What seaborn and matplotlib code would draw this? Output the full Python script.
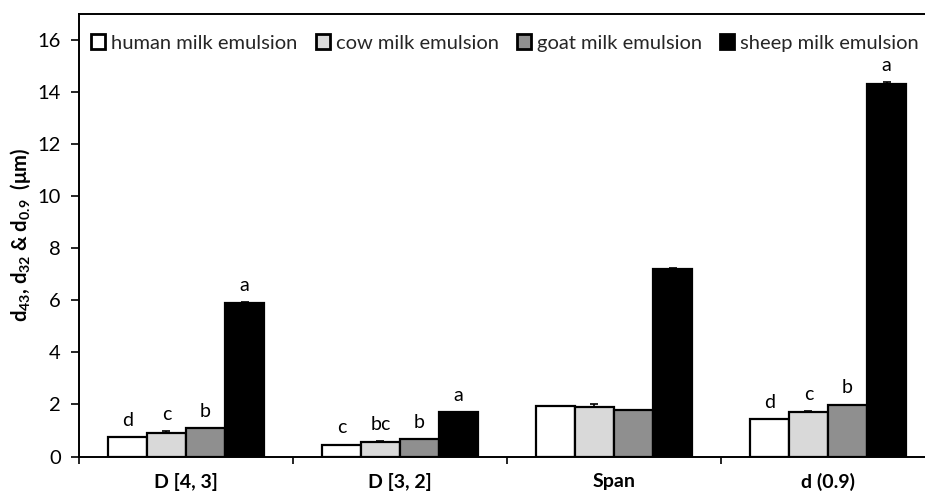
import numpy as np
import pandas as pd
import matplotlib
matplotlib.use("Agg")
import matplotlib.pyplot as plt
import seaborn as sns
from matplotlib.patches import Patch

categories = ["D [4, 3]", "D [3, 2]", "Span", "d (0.9)"]
series = ["human milk emulsion", "cow milk emulsion", "goat milk emulsion", "sheep milk emulsion"]
human = [0.75, 0.45, 1.95, 1.43]
cow = [0.92, 0.57, 1.92, 1.70]
goat = [1.08, 0.66, 1.79, 1.99]
sheep = [5.90, 1.70, 7.22, 14.32]
human_err = [0.0, 0.0, 0.0, 0.0]
cow_err = [0.05, 0.03, 0.10, 0.04]
goat_err = [0.0, 0.0, 0.0, 0.0]
sheep_err = [0.04, 0.0, 0.03, 0.05]
human_letters = ["d", "c", "", "d"]
cow_letters = ["c", "bc", "", "c"]
goat_letters = ["b", "b", "", "b"]
sheep_letters = ["a", "a", "", "a"]
colors = ["#ffffff", "#d9d9d9", "#8f8f8f", "#000000"]

sns.set_theme(style="white")
FONT = "Lato"
plt.rcParams["font.family"] = [FONT, "DejaVu Sans"]
plt.rcParams["mathtext.fontset"] = "custom"
plt.rcParams["mathtext.rm"] = FONT
plt.rcParams["mathtext.bf"] = FONT + ":bold"
plt.rcParams["mathtext.it"] = FONT + ":italic"
plt.rcParams["mathtext.default"] = "bf"

vals = [human, cow, goat, sheep]
errs = [human_err, cow_err, goat_err, sheep_err]
letters = [human_letters, cow_letters, goat_letters, sheep_letters]
df = pd.DataFrame({
    "category": np.repeat([categories], 4, axis=0).ravel(),
    "series": np.repeat(series, len(categories)),
    "value": np.concatenate(vals),
})

fig = plt.figure(figsize=(9.25, 4.94), dpi=100)
ax = fig.add_axes([79 / 925, 1 - 456.5 / 494, 856 / 925, (456.5 - 14) / 494])

sns.barplot(data=df, x="category", y="value", hue="series", order=categories,
            hue_order=series, palette=colors, width=0.73, gap=0, errorbar=None,
            edgecolor="black", linewidth=1.6, saturation=1, ax=ax, legend=False)

for cont, e, lab in zip(ax.containers, errs, letters):
    for bar, ev, lt in zip(cont, e, lab):
        xc = bar.get_x() + bar.get_width() / 2
        h = bar.get_height()
        if ev > 0:
            ax.errorbar(xc, h, yerr=[[0], [ev]], fmt="none", ecolor="black",
                        elinewidth=1.2, capsize=3, capthick=1.2)
        if lt:
            ax.annotate(lt, (xc, h + ev), xytext=(0, 6), textcoords="offset points",
                        ha="center", va="bottom", fontsize=14, color="black")

ax.set_ylim(0, 17)
ax.set_xlim(-0.5, 3.5)
ax.set_yticks(np.arange(0, 17, 2))
ax.tick_params(axis="y", which="major", direction="out", length=6, width=1.2,
               labelsize=14.5, pad=7, left=True, colors="black")
ax.set_xticks(range(len(categories)))
ax.set_xticklabels(categories, fontweight="bold", fontsize=14)
ax.set_xticks(np.arange(-0.5, 3.6, 1), minor=True)
ax.tick_params(axis="x", which="major", length=0, pad=12, labelcolor="black")
ax.tick_params(axis="x", which="minor", direction="out", length=5, width=1.2,
               bottom=True, color="black")
ax.set_xlabel("")
ax.set_ylabel("d$_{43}$, d$_{32}$ & d$_{0.9}$  (μm)", fontsize=14.5,
              fontweight="bold", labelpad=3, color="black")
for side in ["left", "bottom", "top"]:
    ax.spines[side].set_visible(True)
    ax.spines[side].set_color("black")
    ax.spines[side].set_linewidth(1.4)
ax.spines["right"].set_visible(False)

handles = [Patch(facecolor=c, edgecolor="black", linewidth=2.0) for c in colors]
fig.legend(handles, series, loc="center left", bbox_to_anchor=(91 / 925, 1 - 43 / 494),
           ncol=4, frameon=False, fontsize=14.5, handlelength=0.7, handleheight=0.7,
           handletextpad=0.3, columnspacing=0.9, borderpad=0, borderaxespad=0)

fig.savefig("out.png", dpi=100)
